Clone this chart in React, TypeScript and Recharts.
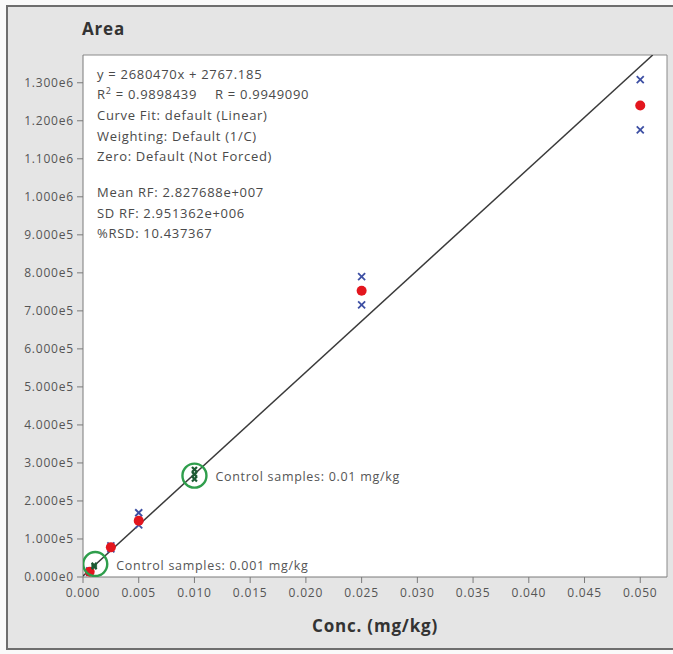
import React from "react";
import {
  ScatterChart,
  Scatter,
  XAxis,
  YAxis,
  CartesianGrid,
  ReferenceLine,
} from "recharts";

// ---- data ----
const calConc = [0.0006, 0.0025, 0.005, 0.025, 0.05];
const calMeanArea = [14000, 78000, 148000, 753000, 1240000];

const repConc = [0.0006, 0.0006, 0.0025, 0.0025, 0.005, 0.005, 0.025, 0.025, 0.05, 0.05];
const repArea = [12000, 16000, 74000, 82000, 169000, 137000, 790000, 716000, 1308000, 1176000];

const ctrlConc = [0.001, 0.001, 0.01, 0.01, 0.01];
const ctrlArea = [27000, 31000, 258000, 270000, 283000];

const ctrlRingConc = [0.0011, 0.01];
const ctrlRingArea = [34000, 266600];
const ctrlRingLabels = ["Control samples: 0.001 mg/kg", "Control samples: 0.01 mg/kg"];

const xTicks = [0, 0.005, 0.01, 0.015, 0.02, 0.025, 0.03, 0.035, 0.04, 0.045, 0.05];
const yTicks = [0, 1e5, 2e5, 3e5, 4e5, 5e5, 6e5, 7e5, 8e5, 9e5, 1e6, 1.1e6, 1.2e6, 1.3e6];

// drawn regression line, as it appears on the plot (area vs mg/kg)
const fitLineConc = [0, 0.05112];
const fitLineArea = [2767, 1373000];

const xMax = 0.0524;
const yMax = 1373000;

const calData = calConc.map((x, i) => ({ x, y: calMeanArea[i] }));
const repData = repConc.map((x, i) => ({ x, y: repArea[i] }));
const ctrlData = ctrlConc.map((x, i) => ({ x, y: ctrlArea[i] }));
const ringData = ctrlRingConc.map((x, i) => ({ x, y: ctrlRingArea[i], label: ctrlRingLabels[i] }));
const fitData = fitLineConc.map((x, i) => ({ x, y: fitLineArea[i] }));

const FONT = "'Open Sans', 'DejaVu Sans', sans-serif";

function fmtY(v: number) {
  if (v === 0) return "0.000e0";
  const e = Math.floor(Math.log10(v) + 1e-9);
  const m = v / Math.pow(10, e);
  return m.toFixed(3) + "e" + e;
}

const Cross = (props: any) => {
  const { cx, cy } = props;
  const s = 3.5;
  return (
    <g stroke="#3d4fa3" strokeWidth={1.8}>
      <line x1={cx - s} y1={cy - s} x2={cx + s} y2={cy + s} />
      <line x1={cx - s} y1={cy + s} x2={cx + s} y2={cy - s} />
    </g>
  );
};

const CtrlMark = (props: any) => {
  const { cx, cy } = props;
  const s = 2.5;
  return (
    <g stroke="#1c5a33" strokeWidth={2.2}>
      <line x1={cx - s} y1={cy - s} x2={cx + s} y2={cy + s} />
      <line x1={cx - s} y1={cy + s} x2={cx + s} y2={cy - s} />
    </g>
  );
};

const RedDot = (props: any) => {
  const { cx, cy } = props;
  return <circle cx={cx} cy={cy} r={5} fill="#e3161e" />;
};

const NoMark = () => <g />;

const Ring = (props: any) => {
  const { cx, cy, payload } = props;
  return (
    <g>
      <circle cx={cx} cy={cy} r={12} fill="none" stroke="#2f9e4c" strokeWidth={2.4} />
      <text
        x={cx + 21}
        y={cy + 1}
        dominantBaseline="central"
        fontFamily={FONT}
        fontSize={12.5}
        letterSpacing={0.7}
        fill="#555"
      >
        {payload.label}
      </text>
    </g>
  );
};

const annoStyle: React.CSSProperties = {
  position: "absolute",
  left: 97,
  fontFamily: FONT,
  fontSize: 13,
  letterSpacing: 0.7,
  color: "#4a4a4a",
  whiteSpace: "nowrap",
  lineHeight: "14px",
};

const annoLines: [string, number][] = [
  ["Curve Fit: default (Linear)", 115],
  ["Weighting: Default (1/C)", 136],
  ["Zero: Default (Not Forced)", 156],
  ["Mean RF: 2.827688e+007", 192],
  ["SD RF: 2.951362e+006", 213],
  ["%RSD: 10.437367", 233],
];

const tickStyle = { fill: "#555", fontSize: 12, fontFamily: FONT, letterSpacing: 0.8 };

export default function App() {
  return (
    <div
      style={{
        position: "fixed",
        left: 0,
        top: 0,
        width: 673,
        height: 654,
        background: "#fafafa",
        overflow: "hidden",
      }}
    >
      <div
        style={{
          position: "absolute",
          left: 6,
          top: 5,
          width: 680,
          height: 645,
          background: "#e5e5e5",
          border: "2px solid #6e6e6e",
          boxSizing: "border-box",
        }}
      />
      <div style={{ position: "absolute", left: 0, top: 0 }}>
        <ScatterChart
          width={673}
          height={654}
          margin={{ top: 55, right: 6, bottom: 37, left: 0 }}
        >
          <CartesianGrid horizontal={false} vertical={false} fill="#ffffff" />
          <XAxis
            type="number"
            dataKey="x"
            domain={[0, xMax]}
            ticks={xTicks}
            tickFormatter={(v: number) => v.toFixed(3)}
            allowDataOverflow
            height={40}
            tickSize={6}
            tickMargin={5}
            stroke="#7a7a7a"
            tick={tickStyle}
          />
          <YAxis
            type="number"
            dataKey="y"
            domain={[0, yMax]}
            ticks={yTicks}
            tickFormatter={fmtY}
            allowDataOverflow
            width={83}
            tickSize={6}
            tickMargin={3}
            stroke="#7a7a7a"
            tick={tickStyle}
          />
          <ReferenceLine y={yMax} stroke="#8a8a8a" />
          <ReferenceLine x={xMax} stroke="#8a8a8a" />
          <Scatter
            data={fitData}
            line={{ stroke: "#3a3a3a", strokeWidth: 1.5 }}
            shape={NoMark}
            isAnimationActive={false}
          />
          <Scatter data={repData} shape={Cross} isAnimationActive={false} />
          <Scatter data={calData} shape={RedDot} isAnimationActive={false} />
          <Scatter data={ctrlData} shape={CtrlMark} isAnimationActive={false} />
          <Scatter data={ringData} shape={Ring} isAnimationActive={false} />
        </ScatterChart>
      </div>

      <div
        style={{
          position: "absolute",
          left: 82,
          top: 18,
          fontFamily: FONT,
          fontWeight: 700,
          fontSize: 17,
          letterSpacing: 0.8,
          color: "#333",
          lineHeight: "22px",
        }}
      >
        Area
      </div>

      <div
        style={{
          position: "absolute",
          left: 83,
          width: 584,
          top: 615,
          textAlign: "center",
          fontFamily: FONT,
          fontWeight: 700,
          fontSize: 17,
          letterSpacing: 0.8,
          color: "#333",
          lineHeight: "22px",
        }}
      >
        Conc. (mg/kg)
      </div>

      <div style={{ ...annoStyle, top: 74 - 7 }}>y = 2680470x + 2767.185</div>
      <div style={{ ...annoStyle, top: 94 - 7 }}>
        R<sup style={{ fontSize: 9, verticalAlign: "top", lineHeight: "8px" }}>2</sup> = 0.9898439
      </div>
      <div style={{ ...annoStyle, left: 215, top: 94 - 7 }}>R = 0.9949090</div>
      {annoLines.map(([t, y]) => (
        <div key={t} style={{ ...annoStyle, top: y - 7 }}>
          {t}
        </div>
      ))}
    </div>
  );
}
